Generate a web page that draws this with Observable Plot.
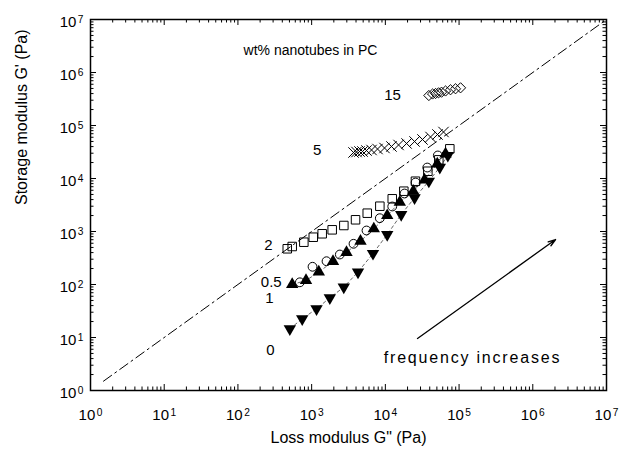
<!DOCTYPE html>
<html>
<head>
<meta charset="utf-8">
<script src="https://cdn.jsdelivr.net/npm/d3@7"></script>
<script src="https://cdn.jsdelivr.net/npm/@observablehq/plot@0.6"></script>
<style>
  html, body { margin: 0; padding: 0; background: white; }
</style>
</head>
<body>
<div id="chart"></div>
<script>
// ---- data (G'' loss modulus, G' storage modulus, Pa) ----
// 0 wt% (filled down triangles)
const w0_x = [506, 745, 1165, 1765, 2730, 4256, 6800, 10600, 16400, 24900, 38900, 54800, 70400];
const w0_y = [14.6, 22.5, 34.8, 56.1, 89, 172, 385, 878, 2094, 4324, 8890, 16300, 27200];
// 0.5 wt% (open circles)
const w05_x = [692, 1028, 1592, 2412, 3700, 5550, 8410, 12400, 18200, 25700, 37000, 51500];
const w05_y = [110, 216, 275, 368, 586, 1045, 1782, 2965, 5210, 8400, 16100, 27200];
// 1 wt% (filled up triangles)
const w1_x = [545, 839, 1250, 1950, 2970, 4600, 6970, 10600, 15700, 23900, 34000, 50600, 65500];
const w1_y = [100, 119, 172, 272, 404, 656, 1125, 2000, 3570, 5760, 9450, 18900, 29200];
// 2 wt% (open squares)
const w2_x = [467, 545, 784, 1052, 1390, 1900, 2735, 3940, 5680, 8420, 12400, 17800, 25600, 37700, 53100, 74900];
const w2_y = [472, 521, 628, 780, 906, 1076, 1298, 1663, 2215, 3000, 4140, 5760, 8890, 13700, 22500, 36300];
// 5 wt% (crosses)
const w5_x = [3700, 4060, 4460, 4900, 5550, 6490, 7830, 9740, 12100, 15100, 19400, 24900, 31900, 41000, 51000, 61500];
const w5_y = [30950, 31600, 32300, 32300, 33700, 34500, 36000, 37600, 40200, 42900, 45800, 49900, 54500, 60700, 67600, 75400];
// 15 wt% (open diamonds)
const w15_x = [38900, 43700, 48000, 52700, 57800, 65500, 76500, 89500, 104700];
const w15_y = [368000, 393000, 402000, 414000, 425000, 448000, 472000, 493000, 514000];

// series labels
const seriesLabels = ["15", "5", "2", "0.5", "1", "0"];
const seriesLabelX = [12500, 1190, 260, 283, 268, 277];
const seriesLabelY = [368000, 33700, 545, 112, 54, 5.7];

// axis ticks
const tickExps = [0, 1, 2, 3, 4, 5, 6, 7];
const tickLabels = ["10^0", "10^1", "10^2", "10^3", "10^4", "10^5", "10^6", "10^7"];
const minorMult = [2, 3, 4, 5, 6, 7, 8, 9];

// reference line G' = G'' and arrow
const refLine = [1.5, 1e7];
const arrowFrom = [27300, 9.6];
const arrowTo = [2.04e6, 706];

const titleText = "wt% nanotubes in PC";
const titlePos = [966, 2.6e6];
const freqText = "frequency increases";
const freqPos = [152000, 4.2];

// ---- build ----
const zip = (xs, ys) => xs.map((x, i) => ({x, y: ys[i]}));
const d0 = zip(w0_x, w0_y), d05 = zip(w05_x, w05_y), d1 = zip(w1_x, w1_y),
      d2 = zip(w2_x, w2_y), d5 = zip(w5_x, w5_y), d15 = zip(w15_x, w15_y);
const labels = seriesLabels.map((t, i) => ({t, x: seriesLabelX[i], y: seriesLabelY[i]}));
const majors = tickExps.map(k => 10 ** k);
const minors = tickExps.slice(0, 7).flatMap(k => minorMult.map(m => m * 10 ** k));
const ticks = tickExps.map((k, i) => ({v: 10 ** k, label: tickLabels[i]}));

const W = 631, H = 454, mL = 90, mR = 25, mT = 19, mB = 64;
const fw = W - mL - mR, fh = H - mT - mB;
const font = "Arial, 'Liberation Sans', Helvetica, sans-serif";

const chart = Plot.plot({
  width: W, height: H,
  marginLeft: mL, marginRight: mR, marginTop: mT, marginBottom: mB,
  x: {type: "log", domain: [1, 1e7], axis: null},
  y: {type: "log", domain: [1, 1e7], axis: null},
  style: {fontFamily: font, background: "white", color: "black"},
  marks: [
    // inward ticks, all four sides
    Plot.tickX(majors, {x: d => d, insetTop: fh - 6, stroke: "black"}),
    Plot.tickX(majors, {x: d => d, insetBottom: fh - 6, stroke: "black"}),
    Plot.tickX(minors, {x: d => d, insetTop: fh - 3.5, stroke: "black"}),
    Plot.tickX(minors, {x: d => d, insetBottom: fh - 3.5, stroke: "black"}),
    Plot.tickY(majors, {y: d => d, insetRight: fw - 6, stroke: "black"}),
    Plot.tickY(majors, {y: d => d, insetLeft: fw - 6, stroke: "black"}),
    Plot.tickY(minors, {y: d => d, insetRight: fw - 3.5, stroke: "black"}),
    Plot.tickY(minors, {y: d => d, insetLeft: fw - 3.5, stroke: "black"}),
    Plot.frame({stroke: "black", strokeWidth: 1.5}),
    // tick labels
    Plot.text(ticks, {x: "v", text: "label", frameAnchor: "bottom", lineAnchor: "top", dy: 19, fontSize: 15, fill: "black"}),
    Plot.text(ticks, {y: "v", text: "label", frameAnchor: "left", textAnchor: "end", dx: -7, dy: 3, fontSize: 15, fill: "black"}),
    // axis titles
    Plot.text(["Loss modulus G\" (Pa)"], {frameAnchor: "bottom", dy: 52, fontSize: 16, fill: "black"}),
    Plot.text(["Storage modulus G' (Pa)"], {frameAnchor: "left", dx: -69, rotate: -90, fontSize: 16, fill: "black"}),
    // reference line G' = G''
    Plot.line(refLine, {x: d => d, y: d => d, stroke: "black", strokeWidth: 1, strokeDasharray: "10,4,2,4"}),
    // thin guide lines through 0 and 1 wt% data
    Plot.line(d0, {x: "x", y: "y", stroke: "black", strokeWidth: 0.6, strokeDasharray: "3,3"}),
    Plot.line(d1, {x: "x", y: "y", stroke: "black", strokeWidth: 0.6, strokeDasharray: "3,3"}),
    // data
    Plot.dot(d05, {x: "x", y: "y", symbol: "circle", r: 4.4, stroke: "black", fill: "none", strokeWidth: 1}),
    Plot.dot(d0, {x: "x", y: "y", symbol: "triangle", rotate: 180, r: 4.6, fill: "black", stroke: "none"}),
    Plot.dot(d1, {x: "x", y: "y", symbol: "triangle", r: 4.6, fill: "black", stroke: "none"}),
    Plot.dot(d2, {x: "x", y: "y", symbol: "square", r: 4.8, stroke: "black", fill: "none", strokeWidth: 1}),
    Plot.dot(d5, {x: "x", y: "y", symbol: "times", r: 4.8, stroke: "black", strokeWidth: 1}),
    Plot.dot(d15, {x: "x", y: "y", symbol: "diamond2", r: 4.6, stroke: "black", fill: "none", strokeWidth: 1}),
    // annotations
    Plot.text(labels, {x: "x", y: "y", text: "t", fontSize: 15, fill: "black"}),
    Plot.text([titleText], {x: () => titlePos[0], y: () => titlePos[1], text: d => d, fontSize: 14, fill: "black"}),
    Plot.text([freqText], {x: () => freqPos[0], y: () => freqPos[1], text: d => d, fontSize: 16, fill: "black"}),
    Plot.arrow([{x1: arrowFrom[0], y1: arrowFrom[1], x2: arrowTo[0], y2: arrowTo[1]}],
      {x1: "x1", y1: "y1", x2: "x2", y2: "y2", stroke: "black", strokeWidth: 1.3, headLength: 9, headAngle: 35})
  ]
});

// superscript exponents on tick labels, letter spacing on the frequency note
d3.select(chart).selectAll("text").each(function() {
  const t = this.textContent;
  const m = /^10\^(\d)$/.exec(t);
  if (m) {
    const sel = d3.select(this);
    sel.text("10");
    sel.append("tspan").attr("dx", "1.5").attr("dy", "-0.45em").attr("font-size", "0.68em").text(m[1]);
  } else if (t === freqText) {
    d3.select(this).attr("letter-spacing", "1.8px");
  }
});
document.getElementById("chart").appendChild(chart);
</script>
</body>
</html>
